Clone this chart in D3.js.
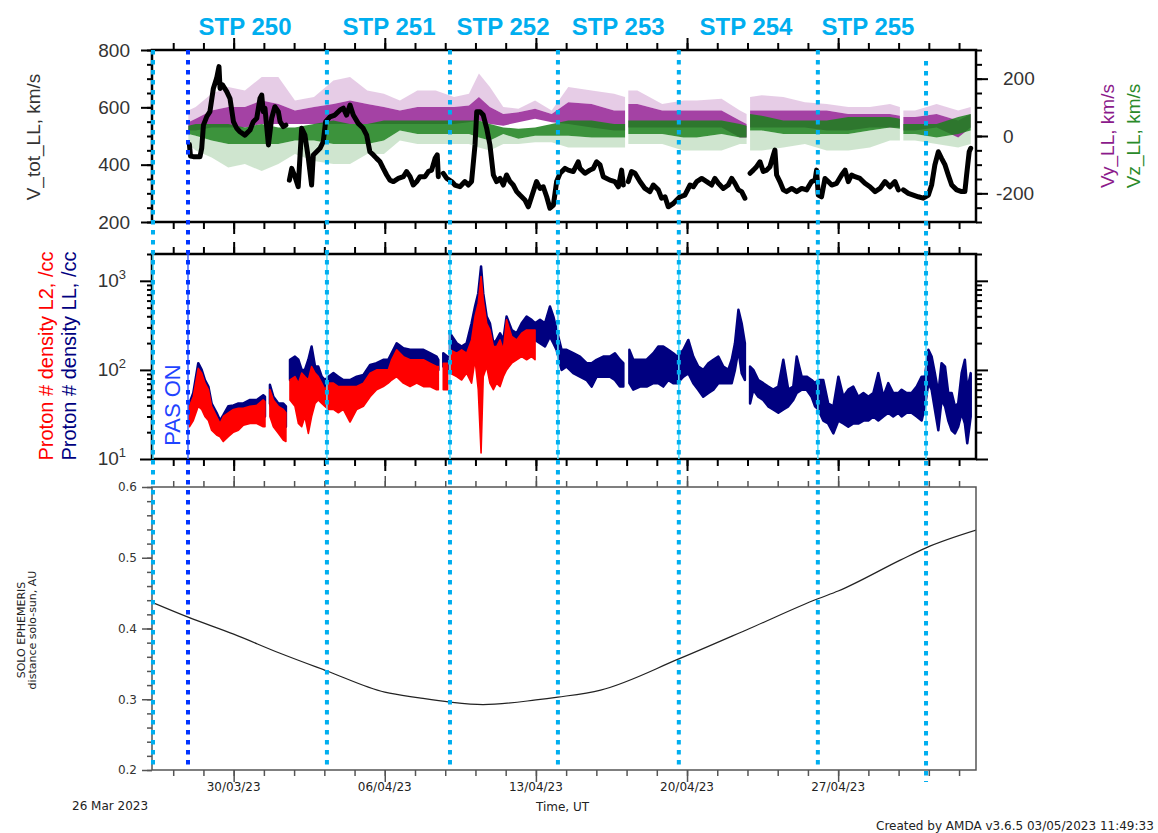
<!DOCTYPE html>
<html><head><meta charset="utf-8">
<script src="https://cdn.jsdelivr.net/npm/d3@7"></script>
<style>html,body{margin:0;padding:0;background:#fff}svg{display:block}</style>
</head><body>
<svg id="c" width="1158" height="833"></svg>
<script>
// ---------------- DATA (time t = days since 2023-03-26 00:00 UT) ----------------
const timeStart = 0.2177, timeEnd = 38.385;
const minorStepDays = 1.4;
const stpNames = ["STP 250","STP 251","STP 252","STP 253","STP 254","STP 255"];
const stpLabelT = [4.53, 11.2, 16.48, 21.81, 27.73, 33.38];
const stpLineT = [0.264, 8.32, 14.02, 19.02, 24.62, 31.06, 36.07];
const pasOnT = 1.885;

// V_tot_LL (km/s), null = data gap
const vTot = [[1.95,470],[2.0,430],[2.13,428],[2.44,428],[2.52,457],[2.6,538],[2.75,567],[2.9,585],[3.06,666],[3.21,701],[3.32,742],[3.37,666],[3.49,678],[3.68,655],[3.83,631],[3.99,550],[4.14,527],[4.29,515],[4.52,503],[4.76,521],[4.91,550],[5.07,562],[5.22,631],[5.30,643],[5.37,585],[5.45,597],[5.61,469],[5.76,562],[5.91,602],[6.07,585],[6.15,550],[6.30,533],[6.42,538],[6.5,null],[6.58,346],[6.69,387],[6.84,358],[6.99,323],[7.15,527],[7.30,503],[7.46,422],[7.61,329],[7.69,434],[7.84,445],[8.0,457],[8.15,480],[8.26,550],[8.46,567],[8.69,573],[8.93,591],[9.08,597],[9.23,573],[9.39,608],[9.54,573],[9.77,544],[10.0,527],[10.16,503],[10.31,445],[10.47,434],[10.62,422],[10.78,410],[10.93,387],[11.09,364],[11.24,346],[11.40,341],[11.63,352],[11.86,358],[12.01,376],[12.17,358],[12.32,329],[12.48,341],[12.63,358],[12.86,358],[13.02,376],[13.17,381],[13.33,422],[13.43,434],[13.48,358],[13.6,null],[13.71,370],[13.87,352],[14.10,341],[14.25,329],[14.48,323],[14.71,341],[14.87,329],[15.02,341],[15.18,469],[15.26,585],[15.41,585],[15.56,573],[15.72,527],[15.87,469],[16.03,364],[16.18,341],[16.34,352],[16.49,329],[16.64,364],[16.80,341],[16.95,329],[17.11,306],[17.26,294],[17.49,277],[17.65,253],[17.80,288],[18.03,341],[18.19,317],[18.34,323],[18.50,288],[18.65,248],[18.81,259],[18.96,341],[19.12,370],[19.35,387],[19.50,381],[19.73,376],[19.96,410],[20.04,387],[20.27,370],[20.50,381],[20.66,387],[20.81,410],[20.97,399],[21.12,358],[21.43,346],[21.66,341],[21.82,323],[21.97,381],[22.05,329],[22.15,null],[22.28,341],[22.43,376],[22.59,370],[22.82,341],[23.05,317],[23.28,306],[23.44,329],[23.67,312],[23.82,283],[23.98,288],[24.13,253],[24.37,265],[24.52,277],[24.67,288],[24.90,294],[25.14,329],[25.29,323],[25.45,341],[25.68,352],[25.91,341],[26.14,329],[26.29,352],[26.45,335],[26.68,317],[26.91,329],[27.07,352],[27.22,335],[27.38,312],[27.53,306],[27.68,283],[27.8,null],[27.92,370],[28.07,381],[28.22,393],[28.38,410],[28.53,376],[28.69,381],[28.84,393],[29.0,434],[29.07,451],[29.15,364],[29.30,341],[29.46,312],[29.61,306],[29.85,317],[30.08,306],[30.31,317],[30.54,312],[30.77,341],[30.93,346],[31.0,381],[31.08,294],[31.23,288],[31.39,352],[31.54,341],[31.70,329],[31.93,335],[32.16,364],[32.32,381],[32.47,341],[32.62,364],[32.78,358],[33.01,352],[33.24,335],[33.47,323],[33.71,306],[33.94,317],[34.17,341],[34.40,323],[34.63,341],[34.79,312],[34.9,null],[35.02,312],[35.25,300],[35.48,294],[35.71,288],[35.94,283],[36.18,294],[36.33,329],[36.48,399],[36.64,445],[36.79,422],[36.95,399],[37.10,364],[37.26,329],[37.49,312],[37.72,306],[37.87,306],[37.95,364],[38.07,445],[38.14,457]];

// Vy_LL spread (km/s): [t, outerHigh, coreHigh, coreLow, outerLow]
const vy = [[1.90,89,48,19,-5],[2.24,101,60,19,-16],[2.98,147,89,30,-28],[3.75,171,101,30,-51],[4.52,159,101,30,-51],[5.30,206,124,42,-51],[6.07,206,112,42,-40],[6.84,124,89,42,-16],[7.72,136,101,42,-28],[8.62,194,112,42,-40],[9.39,206,124,42,-40],[10.19,159,112,42,-28],[10.96,147,101,42,-16],[11.70,124,89,42,-5],[12.51,159,101,42,-5],[13.36,159,101,42,-16],[14.21,136,101,42,-5],[14.90,147,106,48,-5],[15.36,218,136,54,-5],[15.87,171,101,42,-5],[16.49,101,77,36,7],[17.19,95,83,48,19],[17.96,124,95,60,30],[18.73,89,77,48,19],[19.5,171,118,42,-16],[20.58,159,112,30,-28],[21.62,147,89,19,-40],[22.13,136,89,19,-40],[22.2,null,null,null,null],[22.28,159,112,30,-28],[22.70,159,112,30,-28],[23.85,112,89,30,-16],[24.83,124,89,30,-28],[25.45,124,89,30,-28],[26.60,130,89,30,-28],[27.45,89,54,-5,-40],[27.76,77,42,-5,-28],[27.84,null,null,null,null],[27.92,136,89,30,-28],[28.46,142,89,30,-28],[29.46,136,89,30,-28],[30.46,118,89,30,-28],[31.47,112,89,19,-63],[32.47,101,77,19,-28],[33.47,101,77,30,-16],[34.40,112,77,30,-16],[34.86,101,71,30,-5],[34.94,null,null,null,null],[35.02,89,66,19,-5],[35.56,89,66,19,-5],[36.56,112,77,30,-5],[37.56,89,54,-5,-51],[38.14,101,77,30,-28]];

// Vz_LL spread (km/s): [t, outerHigh, coreHigh, coreLow, outerLow]
const vz = [[1.90,54,36,7,-28],[2.24,66,42,1,-51],[2.98,71,42,-16,-75],[3.75,77,42,-28,-110],[4.52,71,30,-28,-98],[5.30,77,42,-28,-122],[6.07,66,30,-28,-98],[6.84,60,30,-16,-63],[7.72,71,42,-16,-87],[8.62,89,54,-28,-98],[9.39,77,42,-28,-98],[10.19,71,42,-28,-63],[10.96,77,54,-16,-63],[11.70,71,54,19,-16],[12.51,77,54,7,-28],[13.36,77,54,7,-28],[14.21,71,54,7,-28],[14.90,71,54,7,-28],[15.36,89,54,-5,-40],[15.87,66,42,-16,-51],[16.49,48,30,7,-28],[17.19,36,25,-10,-28],[17.96,42,30,1,-22],[18.73,54,42,1,-22],[19.5,71,54,1,-40],[20.58,71,54,-5,-40],[21.62,60,42,-5,-40],[22.13,60,42,-5,-40],[22.2,null,null,null,null],[22.28,71,54,7,-28],[22.70,71,54,7,-28],[23.85,71,54,7,-28],[24.83,71,54,-5,-51],[25.45,71,54,-5,-51],[26.60,71,54,7,-51],[27.45,60,42,-5,-28],[27.76,54,36,-5,-28],[27.84,null,null,null,null],[27.92,95,77,19,-51],[28.46,89,71,19,-51],[29.46,71,54,7,-40],[30.46,71,54,7,-28],[31.47,71,54,7,-51],[32.47,83,66,7,-51],[33.47,83,66,19,-40],[34.40,83,66,30,-16],[34.86,77,60,25,-16],[34.94,null,null,null,null],[35.02,60,42,7,-16],[35.56,60,42,7,-16],[36.56,60,42,-5,-28],[37.56,83,66,7,-40],[38.14,89,77,19,-28]];

// Proton density LL (/cc): [t, high, low]
const densLL = [[1.95,42,25],[2.13,55,30],[2.36,119,60],[2.52,100,46],[2.67,77,39],[2.83,65,36],[2.98,42,25],[3.21,33,21],[3.37,27,19.4],[3.52,31,19.4],[3.75,39,23],[3.99,40,25],[4.22,42,27],[4.45,42,30],[4.76,46,30],[5.07,46,31],[5.37,52,30],[5.45,50,30],[5.55,null,null],[5.68,68,42],[5.84,50,33],[6.07,42,27],[6.30,42,25],[6.42,39,23],[6.5,null,null],[6.61,130,77],[6.84,141,84],[7.0,130,71],[7.15,100,71],[7.30,100,60],[7.46,130,60],[7.61,183,77],[7.77,109,71],[7.92,109,60],[8.08,84,60],[8.23,77,50],[8.39,84,65],[8.62,92,65],[8.85,84,60],[9.08,77,60],[9.39,77,55],[9.70,84,60],[10.01,88,60],[10.32,114,84],[10.62,119,84],[10.93,130,92],[11.16,130,92],[11.32,154,119],[11.55,199,130],[11.86,175,119],[12.17,168,114],[12.48,168,119],[12.79,168,109],[13.09,154,109],[13.40,141,109],[13.48,130,100],[13.58,null,null],[13.71,154,109],[13.91,141,100],[13.96,null,null],[14.02,258,141],[14.33,199,130],[14.56,183,130],[14.79,199,141],[15.02,334,183],[15.18,515,237],[15.33,726,397],[15.46,1450,612],[15.56,726,397],[15.72,397,237],[15.87,334,199],[16.03,199,130],[16.18,217,141],[16.34,258,168],[16.49,217,141],[16.64,397,258],[16.88,281,183],[17.11,258,168],[17.34,334,199],[17.57,397,237],[17.80,365,217],[17.96,334,217],[18.19,365,199],[18.42,334,183],[18.65,515,237],[18.81,397,199],[18.96,281,168],[19.19,168,100],[19.42,168,109],[19.73,154,92],[20.04,141,84],[20.35,119,77],[20.58,119,65],[20.81,130,84],[21.12,141,84],[21.43,141,84],[21.66,154,77],[21.89,130,65],[22.05,119,65],[22.15,null,null],[22.33,168,71],[22.51,130,60],[22.82,130,65],[23.13,130,65],[23.44,154,71],[23.67,183,71],[23.90,183,65],[24.13,168,77],[24.36,154,71],[24.55,141,71],[24.83,168,84],[25.06,217,92],[25.29,141,71],[25.52,109,60],[25.75,100,50],[25.99,119,55],[26.22,130,60],[26.45,141,71],[26.68,109,71],[26.91,100,71],[27.07,130,71],[27.22,199,100],[27.38,472,168],[27.53,334,92],[27.68,199,77],[27.8,null,null],[27.92,109,42],[28.07,100,60],[28.30,77,50],[28.53,71,46],[28.76,65,39],[28.99,60,36],[29.23,65,33],[29.46,130,36],[29.69,60,39],[29.92,65,46],[30.08,141,55],[30.31,84,60],[30.54,84,60],[30.77,77,50],[30.93,71,39],[31.08,77,36],[31.31,77,27],[31.54,42,25],[31.78,39,19.4],[32.01,84,27],[32.24,50,25],[32.47,60,23],[32.70,65,25],[32.93,50,25],[33.17,55,27],[33.40,50,27],[33.63,55,30],[33.86,92,27],[34.09,50,30],[34.32,71,33],[34.55,55,30],[34.79,55,33],[34.94,60,30],[35.17,55,33],[35.40,55,33],[35.64,65,30],[35.87,84,27],[36.02,84,39],[36.18,168,71],[36.33,141,60],[36.48,92,36],[36.64,55,21],[36.79,119,46],[36.95,109,39],[37.10,55,27],[37.26,55,21],[37.41,39,19.4],[37.56,42,23],[37.72,92,33],[37.87,130,25],[37.98,60,15],[38.14,92,30]];

// Proton density L2 (/cc): [t, high, low]
const densL2 = [[1.95,39,23],[2.13,50,27],[2.36,104,39],[2.52,92,36],[2.67,71,30],[2.83,60,27],[2.98,39,21],[3.21,30,18.6],[3.37,25,17.8],[3.52,30,15.7],[3.75,33,17.8],[3.99,36,20],[4.22,37,21],[4.45,37,24],[4.76,39,25],[5.07,40,25],[5.37,46,23],[5.45,44,23],[5.55,null,null],[5.68,60,30],[5.84,46,23],[6.07,39,19.4],[6.30,36,16.3],[6.42,33,15.7],[6.5,null,null],[6.61,77,46],[6.84,84,39],[7.0,71,25],[7.15,92,23],[7.30,84,30],[7.46,77,19.4],[7.61,109,30],[7.77,92,42],[7.92,84,46],[8.08,71,42],[8.23,60,39],[8.39,71,36],[8.62,71,36],[8.85,65,33],[9.08,65,36],[9.39,65,26],[9.70,65,36],[10.01,71,39],[10.32,92,50],[10.62,100,60],[10.93,100,65],[11.16,100,71],[11.32,130,77],[11.55,168,84],[11.86,141,71],[12.17,130,65],[12.48,130,71],[12.79,130,65],[13.09,119,65],[13.40,109,60],[13.48,109,60],[13.58,null,null],[13.71,119,60],[13.91,119,60],[13.96,null,null],[14.02,168,92],[14.33,154,84],[14.56,168,77],[14.79,154,92],[15.02,217,71],[15.18,397,130],[15.33,561,60],[15.46,1120,11.7],[15.56,612,84],[15.72,334,109],[15.87,281,71],[16.03,183,60],[16.18,183,71],[16.34,217,65],[16.49,168,84],[16.64,365,100],[16.88,237,119],[17.11,217,130],[17.34,258,141],[17.57,281,130],[17.80,281,141],[17.96,281,130]];

// SOLO distance to Sun (AU)
const distAU = [[0.22,0.437],[1.89,0.416],[4.0,0.392],[6.15,0.365],[8.32,0.34],[11.0,0.31],[12.6,0.302],[14.02,0.296],[15.55,0.2925],[18.0,0.299],[19.02,0.303],[21.0,0.313],[24.62,0.357],[27.9,0.40],[31.06,0.442],[32.0,0.453],[34.9,0.497],[36.07,0.514],[38.39,0.539]];

const vLeftMajor = [200,400,600,800];
const vRightMajor = [-200,0,200];
const nMajor = [10,100,1000];
const dMajor = [0.2,0.3,0.4,0.5,0.6];

// ---------------- DRAWING ----------------
const svg = d3.select("#c");
const day0 = Date.UTC(2023,2,26);
const T = t => new Date(day0 + t*864e5);
const L = 152, R = 976;
const P1 = {top:50, bottom:222}, P2 = {top:254, bottom:459}, P3 = {top:487, bottom:770};
const SANS = "'Liberation Sans', Arial, sans-serif";
const DJV = "'DejaVu Sans', sans-serif";

const x = d3.scaleUtc().domain([T(timeStart), T(timeEnd)]).range([L, R]);
const yV = d3.scaleLinear().domain([200,800]).range([P1.bottom, P1.top]);
const yVr = d3.scaleLinear().domain([-300,300]).range([P1.bottom, P1.top]);
const yN = d3.scaleLog().domain([10,2000]).range([P2.bottom, P2.top]);
const yD = d3.scaleLinear().domain([0.2,0.6]).range([P3.bottom, P3.top]);

const defs = svg.append("defs");
[["c1",P1],["c2",P2],["c3",P3]].forEach(([id,p])=>{
  defs.append("clipPath").attr("id",id).append("rect")
    .attr("x",L).attr("y",p.top).attr("width",R-L).attr("height",p.bottom-p.top);
});

// ---- panel 1: velocity bands
const g1 = svg.append("g").attr("clip-path","url(#c1)");
function band(g, data, iTop, iBot, fill, op){
  const a = d3.area().defined(d=>d[iTop]!=null)
    .x(d=>x(T(d[0]))).y0(d=>yVr(d[iBot])).y1(d=>yVr(d[iTop]));
  g.append("path").datum(data).attr("d",a).attr("fill",fill).attr("fill-opacity",op);
}
band(g1, vy, 1, 2, "#b060b0", 0.32);   // Vy upper fringe
band(g1, vz, 3, 4, "#60a860", 0.30);   // Vz lower fringe
band(g1, vy, 2, 3, "#8a0d8a", 0.78);   // Vy core
band(g1, vz, 2, 3, "#1a801a", 0.85);   // Vz core
g1.append("path").datum(vTot)
  .attr("d", d3.line().defined(d=>d[1]!=null).x(d=>x(T(d[0]))).y(d=>yV(d[1])))
  .attr("fill","none").attr("stroke","#000").attr("stroke-width",5)
  .attr("stroke-linejoin","round").attr("stroke-linecap","round");

// ---- panel 2: densities
const g2 = svg.append("g").attr("clip-path","url(#c2)");
function dband(g, data, col, sw){
  const a = d3.area().defined(d=>d[1]!=null)
    .x(d=>x(T(d[0]))).y0(d=>yN(d[2])).y1(d=>yN(d[1]));
  g.append("path").datum(data).attr("d",a).attr("fill",col)
    .attr("stroke",col).attr("stroke-width",sw).attr("stroke-linejoin","round");
}
dband(g2, densLL, "#000080", 2.5);
dband(g2, densL2, "#ff0000", 1.6);

// ---- panel 3: distance
const g3 = svg.append("g").attr("clip-path","url(#c3)");
g3.append("path").datum(distAU)
  .attr("d", d3.line().curve(d3.curveMonotoneX).x(d=>x(T(d[0]))).y(d=>yD(d[1])))
  .attr("fill","none").attr("stroke","#222").attr("stroke-width",1.2);

// ---- axes helpers
function ticks(orient, scale, pos, values, len, color, sw){
  const gen = {top:d3.axisTop, bottom:d3.axisBottom, left:d3.axisLeft, right:d3.axisRight}[orient](scale)
    .tickValues(values).tickSize(len).tickSizeOuter(0).tickFormat(()=>"");
  const tr = (orient==="top"||orient==="bottom") ? `translate(0,${pos})` : `translate(${pos},0)`;
  const g = svg.append("g").attr("transform",tr).call(gen);
  g.select(".domain").remove();
  g.selectAll(".tick text").remove();
  g.selectAll(".tick line").attr("stroke",color).attr("stroke-width",sw);
  return g;
}
const tickBase = Date.UTC(2023,2,30);
const ks = d3.range(-2,25);
const xMinor = ks.map(k=>new Date(tickBase + k*minorStepDays*864e5));
const xMajor = ks.filter(k=>k%5===0).map(k=>new Date(tickBase + k*minorStepDays*864e5));

function frame(p, color, sw){
  svg.append("rect").attr("x",L).attr("y",p.top).attr("width",R-L).attr("height",p.bottom-p.top)
    .attr("fill","none").attr("stroke",color).attr("stroke-width",sw);
}
const K = "#000";
[P1,P2].forEach(p=>{
  ticks("top", x, p.top, xMinor, 7, K, 2);
  ticks("top", x, p.top, xMajor, 12, K, 2);
  ticks("bottom", x, p.bottom, xMinor, 7, K, 2);
  ticks("bottom", x, p.bottom, xMajor, 12, K, 2);
});
ticks("left", yV, L, d3.range(200,801,50), 5, K, 2);
ticks("left", yV, L, vLeftMajor, 11, K, 2);
ticks("right", yVr, R, d3.range(-300,301,50), 6, K, 2);
ticks("right", yVr, R, vRightMajor, 12, K, 2);
const nMinor = [];
[10,100,1000].forEach(b=>{ for(let m=2;m<=9;m++){ if(b*m<=2000) nMinor.push(b*m);} });
ticks("left", yN, L, nMinor, 5, K, 2);
ticks("left", yN, L, nMajor, 12, K, 2);
ticks("right", yN, R, nMinor, 6, K, 2);
ticks("right", yN, R, nMajor, 12, K, 2);
frame(P1, K, 2.5);
frame(P2, K, 2.5);

const G = "#555";
ticks("top", x, P3.top, xMinor, 6, G, 1.5);
ticks("top", x, P3.top, xMajor, 11, G, 1.5);
ticks("bottom", x, P3.bottom, xMinor, 6, G, 1.5);
ticks("bottom", x, P3.bottom, xMajor, 12, G, 1.5);
ticks("left", yD, L, d3.range(0.2,0.601,0.02), 5, G, 1.5);
ticks("left", yD, L, dMajor, 10, G, 1.5);
frame(P3, G, 1.5);

// tick labels
svg.append("g").selectAll("text").data(vLeftMajor).join("text")
  .attr("x",130).attr("y",d=>yV(d)).attr("dy","0.35em").attr("text-anchor","end")
  .attr("font-family",SANS).attr("font-size",19).attr("fill","#333").text(d=>d);
svg.append("g").selectAll("text").data(vRightMajor).join("text")
  .attr("x",d=>d<0?996:1003).attr("y",d=>yVr(d)).attr("dy","0.35em").attr("text-anchor","start")
  .attr("font-family",SANS).attr("font-size",19).attr("fill","#333").text(d=>d);
const nl = svg.append("g").selectAll("text").data(nMajor).join("text")
  .attr("x",126).attr("y",d=>yN(d)+6).attr("text-anchor","end")
  .attr("font-family",SANS).attr("font-size",19).attr("fill","#333");
nl.append("tspan").text("10");
nl.append("tspan").attr("font-size",13).attr("dy",-8).text(d=>Math.round(Math.log10(d)));
svg.append("g").selectAll("text").data(dMajor).join("text")
  .attr("x",137).attr("y",d=>yD(d)).attr("dy","0.36em").attr("text-anchor","end")
  .attr("font-family",DJV).attr("font-size",12).attr("fill","#333").text(d=>d.toFixed(1));
const fmt = d3.utcFormat("%d/%m/%y");
svg.append("g").selectAll("text").data(xMajor).join("text")
  .attr("x",d=>x(d)).attr("y",791).attr("text-anchor","middle")
  .attr("font-family",DJV).attr("font-size",12).attr("fill","#222").text(d=>fmt(d));

function vtext(cx, cy, txt, size, color, family, weight){
  svg.append("text").attr("transform",`translate(${cx},${cy}) rotate(-90)`)
    .attr("text-anchor","middle").attr("dy","0.35em")
    .attr("font-family",family).attr("font-size",size).attr("fill",color)
    .attr("font-weight",weight||"normal").text(txt);
}
vtext(33, 137, "V_tot_LL, km/s", 19, "#333", SANS);
vtext(1107, 136, "Vy_LL, km/s", 19, "#8b1a8b", SANS);
vtext(1133, 136, "Vz_LL, km/s", 19, "#2a8a2a", SANS);
vtext(46, 356, "Proton # density L2, /cc", 20, "#ff0000", SANS);
vtext(69, 356, "Proton # density LL, /cc", 20, "#000080", SANS);
vtext(21.5, 630, "SOLO EPHEMERIS", 11, "#222", DJV);
vtext(32, 630, "distance solo-sun, AU", 11, "#222", DJV);

svg.append("text").attr("x",72).attr("y",810).attr("font-family",DJV).attr("font-size",12).attr("fill","#222").text("26 Mar 2023");
svg.append("text").attr("x",536).attr("y",811).attr("font-family",DJV).attr("font-size",12).attr("fill","#222").text("Time, UT");
svg.append("text").attr("x",876).attr("y",830).attr("font-family",DJV).attr("font-size",12).attr("fill","#222").text("Created by AMDA v3.6.5 03/05/2023 11:49:33");

// ---- STP boundaries
const vl = svg.append("g");
vl.selectAll("line.bg").data(stpLineT).join("line").attr("class","bg")
  .attr("x1",d=>x(T(d))).attr("x2",d=>x(T(d))).attr("y1",P2.top).attr("y2",P2.bottom)
  .attr("stroke","#55e0ff").attr("stroke-width",1.5);
vl.append("line").attr("x1",x(T(pasOnT))).attr("x2",x(T(pasOnT))).attr("y1",P2.top).attr("y2",P2.bottom)
  .attr("stroke","#4466ff").attr("stroke-width",1.5);
vl.selectAll("line.dot").data(stpLineT).join("line").attr("class","dot")
  .attr("x1",d=>x(T(d))).attr("x2",d=>x(T(d)))
  .attr("y1",(d,i)=> i===stpLineT.length-1 ? 61 : P1.top)
  .attr("y2",(d,i)=> i===stpLineT.length-1 ? 782 : P3.bottom)
  .attr("stroke","#00aeef").attr("stroke-width",4).attr("stroke-dasharray","4.5,5.5");
vl.append("line").attr("x1",x(T(pasOnT))).attr("x2",x(T(pasOnT))).attr("y1",P1.top).attr("y2",P3.bottom)
  .attr("stroke","#0033ff").attr("stroke-width",4).attr("stroke-dasharray","4.5,5.5");

svg.append("g").selectAll("text").data(stpNames).join("text")
  .attr("x",(d,i)=>x(T(stpLabelT[i]))).attr("y",35).attr("text-anchor","middle")
  .attr("font-family",SANS).attr("font-size",24).attr("font-weight","bold").attr("fill","#00aeef").text(d=>d);

vtext(172, 405, "PAS ON", 22, "#1f44ff", SANS);
</script>
</body></html>
